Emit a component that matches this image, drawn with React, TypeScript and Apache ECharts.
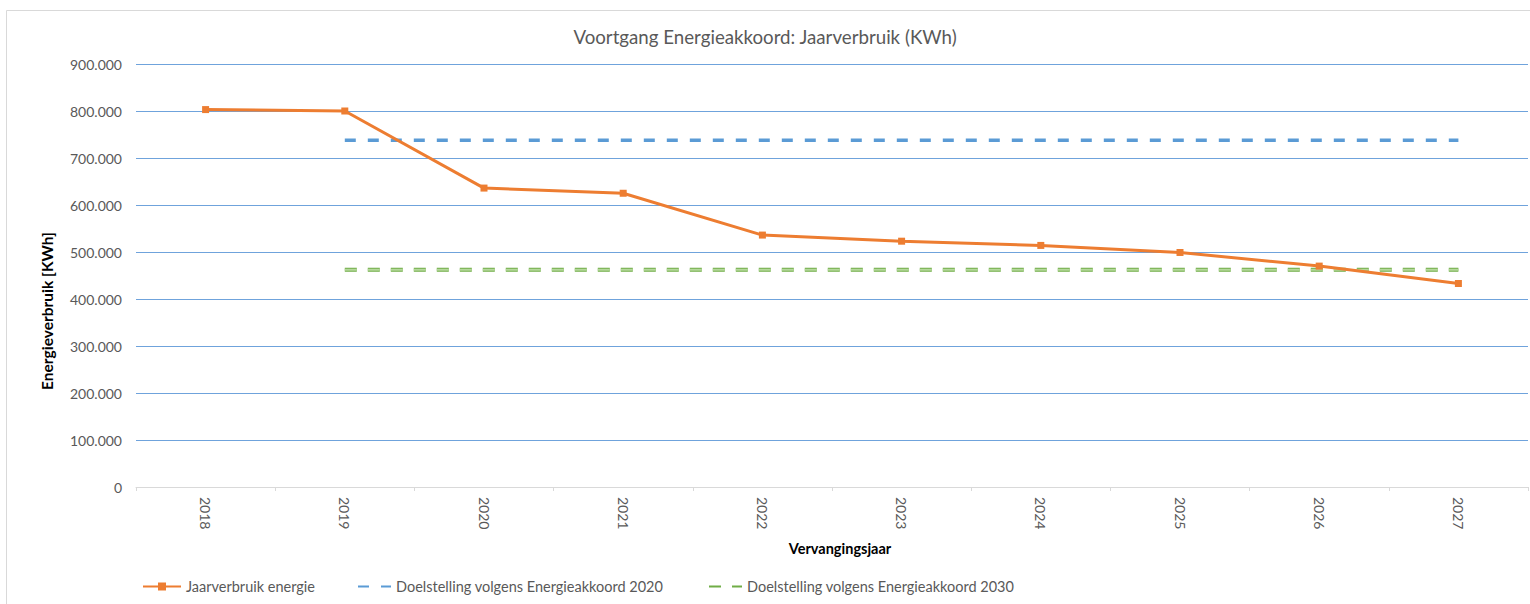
import React, { useEffect, useRef } from "react";
import * as echarts from "echarts";

const years = ["2018", "2019", "2020", "2021", "2022", "2023", "2024", "2025", "2026", "2027"];
const jaarverbruik = [803000, 800000, 636000, 625000, 536000, 523000, 514000, 499000, 470000, 433000];
const doel2020 = [null, 738000, 738000, 738000, 738000, 738000, 738000, 738000, 738000, 738000];
const doel2030 = [null, 462000, 462000, 462000, 462000, 462000, 462000, 462000, 462000, 462000];
const yTickLabels = ["0", "100.000", "200.000", "300.000", "400.000", "500.000", "600.000", "700.000", "800.000", "900.000"];

const S1 = "Jaarverbruik energie";
const S2 = "Doelstelling volgens Energieakkoord 2020";
const S3 = "Doelstelling volgens Energieakkoord 2030";

const FONT = "Lato, 'Open Sans', sans-serif";
const GRAY = "#595959";

export default function App() {
  const ref = useRef<HTMLDivElement>(null);
  useEffect(() => {
    if (!ref.current) return;
    const chart = echarts.init(ref.current, null, { renderer: "svg" });
    const legendCommon = {
      top: 574,
      itemHeight: 10,
      itemGap: 0,
      textStyle: { color: GRAY, fontSize: 14.5, fontFamily: FONT },
    };
    chart.setOption({
      animation: false,
      backgroundColor: "#ffffff",
      title: {
        text: "Voortgang Energieakkoord: Jaarverbruik (KWh)",
        left: "center",
        top: 22,
        textStyle: { color: GRAY, fontSize: 18.7, fontWeight: "normal", fontFamily: FONT },
      },
      grid: { left: 136, right: 2, top: 64, bottom: 117, containLabel: false },
      legend: [
        { ...legendCommon, left: 137, itemWidth: 38, data: [S1] },
        { ...legendCommon, left: 352, itemWidth: 33, data: [S2], itemStyle: { opacity: 0 } },
        { ...legendCommon, left: 703, itemWidth: 33, data: [S3], itemStyle: { opacity: 0 } },
      ],
      xAxis: {
        type: "category",
        data: years,
        boundaryGap: true,
        axisLine: { lineStyle: { color: "#d9d9d9", width: 1 } },
        axisTick: { show: true, length: 4, lineStyle: { color: "#d9d9d9" } },
        axisLabel: { rotate: -90, margin: 10, color: GRAY, fontSize: 14, fontFamily: FONT },
        splitLine: { show: false },
      },
      yAxis: {
        type: "value",
        min: 0,
        max: 900000,
        interval: 100000,
        axisLine: { show: false },
        axisTick: { show: false },
        axisLabel: {
          margin: 14,
          color: GRAY,
          fontSize: 14,
          fontFamily: FONT,
          formatter: (v: number) => yTickLabels[Math.round(v / 100000)] ?? "",
        },
        splitLine: { lineStyle: { color: "#6fa3dc", width: 1 } },
      },
      graphic: [
        {
          type: "rect",
          shape: { x: 6.5, y: 10.5, width: 1540, height: 620 },
          style: { fill: "none", stroke: "#d9d9d9", lineWidth: 1 },
          silent: true,
          z: -10,
        },
        {
          type: "text",
          x: 47,
          y: 311,
          rotation: Math.PI / 2,
          style: {
            text: "Energieverbruik [KWh]",
            fill: "#000000",
            fontSize: 15.5,
            fontWeight: "bold",
            fontFamily: FONT,
            align: "center",
            verticalAlign: "middle",
          },
        },
        {
          type: "text",
          x: 840,
          y: 548,
          style: {
            text: "Vervangingsjaar",
            fill: "#000000",
            fontSize: 14.5,
            fontWeight: "bold",
            fontFamily: FONT,
            align: "center",
            verticalAlign: "middle",
          },
        },
      ],
      series: [
        {
          name: S2,
          type: "line",
          data: doel2020,
          symbol: "none",
          color: "#5b9bd5",
          lineStyle: { color: "#5b9bd5", width: 3.5, type: [11, 12], cap: "butt" },
          z: 2,
        },
        {
          name: S3,
          type: "line",
          data: doel2030,
          symbol: "none",
          color: "#70ad47",
          lineStyle: { color: "#70ad47", width: 4, type: [12, 11], cap: "butt" },
          z: 2,
        },
        {
          name: S3 + " (binnen)",
          type: "line",
          data: doel2030,
          symbol: "none",
          color: "#b4d89b",
          lineStyle: { color: "#b4d89b", width: 2, type: [12, 11], cap: "butt" },
          z: 3,
        },
        {
          name: S1,
          type: "line",
          data: jaarverbruik,
          symbol: "rect",
          symbolSize: 7,
          color: "#ed7d31",
          itemStyle: { color: "#ed7d31" },
          lineStyle: { color: "#ed7d31", width: 3 },
          z: 5,
        },
      ],
    });
    return () => chart.dispose();
  }, []);
  return (
    <div
      ref={ref}
      style={{ position: "fixed", left: 0, top: 0, width: 1530, height: 604 }}
    />
  );
}
